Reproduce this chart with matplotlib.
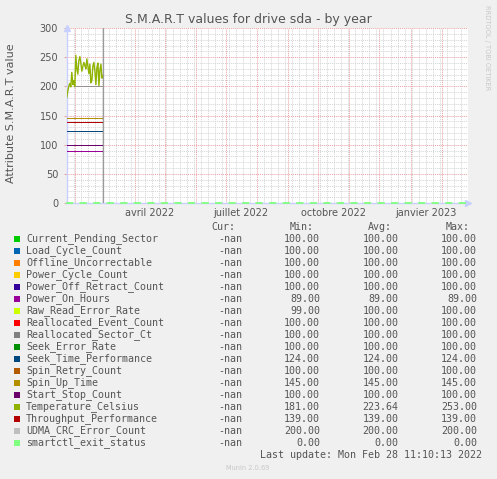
import datetime as dt

import matplotlib
matplotlib.use("Agg")
import matplotlib.pyplot as plt
import matplotlib.dates as mdates
from matplotlib.patches import Rectangle

W, H = 497, 479

# ---- data -------------------------------------------------------------
SERIES = [
    "Current_Pending_Sector", "Load_Cycle_Count", "Offline_Uncorrectable",
    "Power_Cycle_Count", "Power_Off_Retract_Count", "Power_On_Hours",
    "Raw_Read_Error_Rate", "Reallocated_Event_Count", "Reallocated_Sector_Ct",
    "Seek_Error_Rate", "Seek_Time_Performance", "Spin_Retry_Count",
    "Spin_Up_Time", "Start_Stop_Count", "Temperature_Celsius",
    "Throughput_Performance", "UDMA_CRC_Error_Count", "smartctl_exit_status",
]
COLORS = [
    "#00cc00", "#0066b3", "#ff8000", "#ffcc00", "#330099", "#990099",
    "#ccff00", "#ff0000", "#808080", "#008f00", "#00487d", "#b35a00",
    "#b38f00", "#6b006b", "#8fb300", "#b30000", "#bebebe", "#80ff80",
]
CUR = ["-nan"] * 18
MIN = [100, 100, 100, 100, 100, 89, 99, 100, 100, 100, 124, 100, 145, 100, 181, 139, 200, 0]
AVG = [100, 100, 100, 100, 100, 89, 100, 100, 100, 100, 124, 100, 145, 100, 223.64, 139, 200, 0]
MAX = [100, 100, 100, 100, 100, 89, 100, 100, 100, 100, 124, 100, 145, 100, 253, 139, 200, 0]

# constant levels held by most attributes during the recorded period
LEVELS = [100, 100, 100, 100, 100, 89, 100, 100, 100, 100, 124, 100, 145, 100, None, 139, 200, 0]

# Temperature_Celsius, one reading per day from the first sample
TEMP = [181, 192, 200, 205, 199, 224, 203, 210, 199, 253, 230, 221, 244, 251,
        240, 226, 234, 241, 236, 230, 247, 235, 222, 238, 206, 210, 235, 241,
        226, 203, 232, 240, 201, 228, 238, 214, 219]

GRAPH_START = dt.datetime(2022, 1, 23, 5, 0)
GRAPH_END = GRAPH_START + dt.timedelta(days=400)
DATA_START = dt.datetime(2022, 1, 23, 12, 0)
UDMA_START = dt.datetime(2022, 1, 31, 12, 0)
LAST_UPDATE = dt.datetime(2022, 2, 28, 11, 10, 13)

XLABELS = ["avril 2022", "juillet 2022", "octobre 2022", "janvier 2023"]
XLABEL_DATES = [dt.datetime(2022, 4, 16), dt.datetime(2022, 7, 16),
                dt.datetime(2022, 10, 16), dt.datetime(2023, 1, 16)]

TITLE = "S.M.A.R.T values for drive sda - by year"
YLABEL = "Attribute S.M.A.R.T value"

# ---- figure -----------------------------------------------------------
BG = "#f0f0f0"
TXT = "#555555"
MONO = "DejaVu Sans Mono"

fig = plt.figure(figsize=(W / 100, H / 100), dpi=100, facecolor=BG)


def fx(x):
    return x / W


def fy(y):
    return 1 - y / H


left, right, top, bottom = 66.5, 468, 28, 203
ax = fig.add_axes([fx(left), fy(bottom), fx(right - left), (bottom - top) / H])
ax.set_facecolor("white")

ax.set_xlim(GRAPH_START, GRAPH_END)
ax.set_ylim(0, 300)

# grid: red dotted per month / 50 units, grey dotted per week / 10 units
dotted = (0, (1, 1))
ax.xaxis.set_major_locator(mdates.MonthLocator())
ax.xaxis.set_minor_locator(mdates.WeekdayLocator(byweekday=mdates.MO))
ax.yaxis.set_major_locator(matplotlib.ticker.MultipleLocator(50))
ax.yaxis.set_minor_locator(matplotlib.ticker.MultipleLocator(10))
ax.grid(which="major", color="#e8a0a0", linestyle=dotted, linewidth=0.7)
ax.grid(which="minor", color="#d4d4d4", linestyle=dotted, linewidth=0.7)
ax.set_axisbelow(True)

ax.tick_params(axis="x", which="both", length=0, labelbottom=False)
ax.tick_params(axis="y", which="major", length=2, color="#e8a8a8",
               labelsize=7, labelcolor=TXT, pad=4)
ax.tick_params(axis="y", which="minor", length=0)

for s in ("top", "right"):
    ax.spines[s].set_visible(False)
for s in ("left", "bottom"):
    ax.spines[s].set_color("#c8d0ff")
    ax.spines[s].set_linewidth(1.0)

# month labels, centred on mid-month like rrdtool
for d, lab in zip(XLABEL_DATES, XLABELS):
    ax.text(d, -0.03, lab, transform=ax.get_xaxis_transform(),
            ha="center", va="top", fontsize=7, color=TXT)

# axis arrows
ax.plot([0], [1.0], marker="^", ms=4, color="#c8d0ff", transform=ax.transAxes,
        clip_on=False)
ax.plot([1.0], [0], marker=">", ms=4, color="#c8d0ff", transform=ax.transAxes,
        clip_on=False)

# series
for name, col, lvl in zip(SERIES, COLORS, LEVELS):
    if name == "Temperature_Celsius":
        dates = [DATA_START + dt.timedelta(days=i) for i in range(len(TEMP))]
        ax.plot(dates, TEMP, color=col, lw=1.0, zorder=3)
    elif name == "smartctl_exit_status":
        ax.plot([GRAPH_START, GRAPH_END], [lvl, lvl], color=col, lw=1.3,
                dashes=(4, 3.5), zorder=4, clip_on=False)
    elif name == "UDMA_CRC_Error_Count":
        ax.plot([UDMA_START, LAST_UPDATE], [lvl, lvl], color="#9a9090", lw=0.72,
                zorder=3, antialiased=False)
    else:
        ax.plot([DATA_START, LAST_UPDATE], [lvl, lvl], color=col, lw=0.72,
                zorder=3, antialiased=False)

ax.axvline(LAST_UPDATE, color="#9a9a9a", lw=0.9, zorder=3)

# titles
fig.text(fx(248), fy(19), TITLE, ha="center", va="center", fontsize=9, color=TXT)
fig.text(fx(11), fy(113), YLABEL, rotation=90, ha="center", va="center",
         fontsize=8, color=TXT)
fig.text(fx(487), fy(5), "RRDTOOL / TOBI OETIKER", rotation=270, ha="center",
         va="top", fontsize=4.8, color="#c8c8c8")

# legend table
fs = 7.2
row0, step = 239, 12
fig.text(fx(235), fy(227), "Cur:", ha="right", va="center", fontsize=fs,
         family=MONO, color=TXT)
fig.text(fx(314), fy(227), "Min:", ha="right", va="center", fontsize=fs,
         family=MONO, color=TXT)
fig.text(fx(392), fy(227), "Avg:", ha="right", va="center", fontsize=fs,
         family=MONO, color=TXT)
fig.text(fx(470), fy(227), "Max:", ha="right", va="center", fontsize=fs,
         family=MONO, color=TXT)

for i, name in enumerate(SERIES):
    y = row0 + i * step
    fig.add_artist(Rectangle((fx(14), fy(y + 3)), 6 / W, 6 / H,
                             transform=fig.transFigure, color=COLORS[i], lw=0))
    fig.text(fx(26), fy(y), name, ha="left", va="center", fontsize=fs,
             family=MONO, color=TXT)
    fig.text(fx(242), fy(y), CUR[i], ha="right", va="center", fontsize=fs,
             family=MONO, color=TXT)
    fig.text(fx(320), fy(y), f"{MIN[i]:.2f}", ha="right", va="center",
             fontsize=fs, family=MONO, color=TXT)
    fig.text(fx(398.5), fy(y), f"{AVG[i]:.2f}", ha="right", va="center",
             fontsize=fs, family=MONO, color=TXT)
    fig.text(fx(477), fy(y), f"{MAX[i]:.2f}", ha="right", va="center",
             fontsize=fs, family=MONO, color=TXT)

fig.text(fx(482), fy(455), "Last update: Mon Feb 28 11:10:13 2022", ha="right",
         va="center", fontsize=fs, family=MONO, color=TXT)
fig.text(fx(248), fy(468), "Munin 2.0.69", ha="center", va="center",
         fontsize=4.8, color="#c8c8c8")

fig.savefig("out.png", dpi=100, facecolor=BG)
